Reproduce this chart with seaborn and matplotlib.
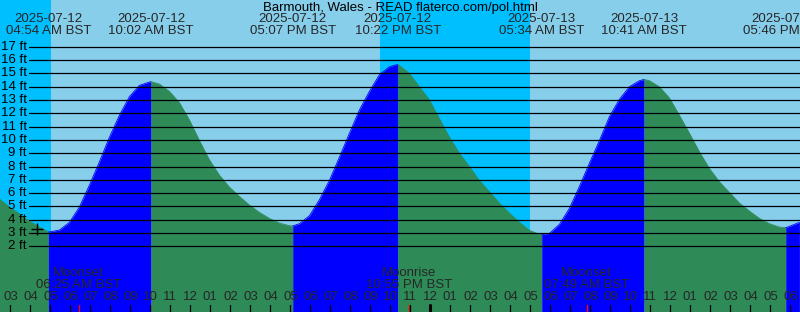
import numpy as np
import pandas as pd
import matplotlib
matplotlib.use("Agg")
import matplotlib.pyplot as plt
import matplotlib.transforms as mtransforms
import seaborn as sns

# ---------------- data ----------------
title = "Barmouth, Wales - READ flaterco.com/pol.html"

# tide heights (ft) read every half hour, starting 02:27 on 2025-07-12 (hours since 07-12 00:00)
sample_hours = np.arange(2.45, 42.46, 0.5)
sample_heights = [
    5.56, 4.95, 4.45, 3.9, 3.45, 3.08, 3.22, 3.8, 4.95, 6.6,
    8.35, 10.2, 11.85, 13.25, 14.1, 14.35, 14.2, 13.65, 12.8, 11.5,
    9.95, 8.5, 7.35, 6.45, 5.75, 5.1, 4.55, 4.1, 3.75, 3.55,
    3.7, 4.3, 5.5, 6.95, 8.7, 10.5, 12.25, 13.65, 14.9, 15.5,
    15.6, 15.0, 14.0, 13.0, 11.6, 10.2, 9.0, 8.0, 6.95, 6.1,
    5.25, 4.5, 3.8, 3.2, 2.9, 2.97, 3.65, 4.85, 6.5, 8.25,
    9.95, 11.75, 13.05, 14.0, 14.45, 14.45, 14.0, 13.15, 11.85, 10.5,
    9.1, 7.85, 6.85, 6.05, 5.25, 4.65, 4.1, 3.7, 3.45, 3.5,
    3.8,
]

# high / low tides
extreme_hours = [4.9, 10.033, 17.117, 22.367, 29.567, 34.683, 41.767]
extreme_heights = [3.08, 14.38, 3.53, 15.68, 2.88, 14.55, 3.4]
extreme_dates = ["2025-07-12", "2025-07-12", "2025-07-12", "2025-07-12",
                 "2025-07-13", "2025-07-13", "2025-07-13"]
extreme_times = ["04:54 AM BST", "10:02 AM BST", "05:07 PM BST", "10:22 PM BST",
                 "05:34 AM BST", "10:41 AM BST", "05:46 PM BST"]

# night periods (hours)
night_spans = [(2.45, 5.05), (21.5, 29.0)]

# moon events
moon_hours = [6.417, 22.917, 31.817]
moon_names = ["Moonset", "Moonrise", "Moonset"]
moon_times = ["06:25 AM BST", "10:55 PM BST", "07:49 AM BST"]

# hour axis
hour_ticks = list(range(3, 43))
hour_labels = ["%02d" % (((h - 1) % 12) + 1) for h in hour_ticks]
midnight_hour = 24

# current time marker
now_hour, now_height = 4.325, 3.3

ft_levels = list(range(2, 18))

# ---------------- styling ----------------
sns.set_theme(style="white")
plt.rcParams["font.family"] = ["Liberation Sans", "DejaVu Sans"]
FS = 9.5
NIGHT = "#00BFFF"
DAY = "#87CEEB"
RISE = "#0000FF"
FALL = "#2E8B57"

XMIN, XMAX = 2.48, 42.48
YMIN, YMAX = -2.94, 20.52

fig = plt.figure(figsize=(8.0, 3.12), dpi=100)
ax = fig.add_axes([0, 0, 1, 1])
ax.set_xlim(XMIN, XMAX)
ax.set_ylim(YMIN, YMAX)
ax.set_facecolor(DAY)
for s in ax.spines.values():
    s.set_visible(False)
ax.set_xticks([])
ax.set_yticks([])

for a, b in night_spans:
    ax.axvspan(a, b, color=NIGHT, lw=0, zorder=0)

# tide curve
df = pd.DataFrame({"hour": list(sample_hours) + extreme_hours,
                   "height": sample_heights + extreme_heights})
df = df.sort_values("hour").reset_index(drop=True)

bounds = [df.hour.min()] + extreme_hours + [df.hour.max()]
parts = []
for i in range(len(bounds) - 1):
    a, b = bounds[i], bounds[i + 1]
    seg = df[(df.hour >= a - 1e-9) & (df.hour <= b + 1e-9)].copy()
    rising = seg.height.iloc[-1] > seg.height.iloc[0]
    col = RISE if rising else FALL
    ax.fill_between(seg.hour, seg.height, YMIN, color=col, lw=0, zorder=1)
    seg["seg"] = i
    seg["col"] = col
    parts.append(seg)
segs = pd.concat(parts)
palette = {i: c for i, c in segs.groupby("seg")["col"].first().items()}
sns.lineplot(data=segs, x="hour", y="height", hue="seg", palette=palette,
             lw=0.6, legend=False, ax=ax, zorder=2, sort=False)
ax.set_xlabel("")
ax.set_ylabel("")

# grid lines and labels
bx = mtransforms.blended_transform_factory(ax.transAxes, ax.transData)
for lvl in ft_levels:
    ax.plot([29.3 / 800, 1], [lvl, lvl], transform=bx, color="black", lw=0.9, zorder=3)
    ax.text(26.8 / 800, lvl, f"{lvl} ft", transform=bx, ha="right", va="center",
            fontsize=FS, color="black", zorder=4)

by = mtransforms.blended_transform_factory(ax.transData, ax.transAxes)

ax.text(0.5, 1 - 7.5 / 312, title, transform=ax.transAxes, ha="center", va="center",
        fontsize=FS, color="black", zorder=4)

for h, d, t in zip(extreme_hours, extreme_dates, extreme_times):
    ax.text(h, 1 - 19.5 / 312, d, transform=by, ha="center", va="center", fontsize=FS, zorder=4)
    ax.text(h, 1 - 31.5 / 312, t, transform=by, ha="center", va="center", fontsize=FS, zorder=4)

for h, n, t in zip(moon_hours, moon_names, moon_times):
    ax.text(h, 1 - 273.5 / 312, n, transform=by, ha="center", va="center", fontsize=FS, zorder=4)
    ax.text(h, 1 - 285.5 / 312, t, transform=by, ha="center", va="center", fontsize=FS, zorder=4)
    ax.plot([h, h], [0, 7 / 312], transform=by, color="red", lw=1.0, zorder=4)

for h, lab in zip(hour_ticks, hour_labels):
    ax.text(h, 1 - 297.5 / 312, lab, transform=by, ha="center", va="center", fontsize=FS, zorder=4)
    lw = 2.2 if h == midnight_hour else 0.9
    ax.plot([h, h], [0, 7 / 312], transform=by, color="black", lw=lw, zorder=4)

sns.scatterplot(x=[now_hour], y=[now_height], marker="+", s=70, color="black",
                linewidth=1.0, ax=ax, zorder=5, legend=False)

fig.savefig("out.png", dpi=100)
